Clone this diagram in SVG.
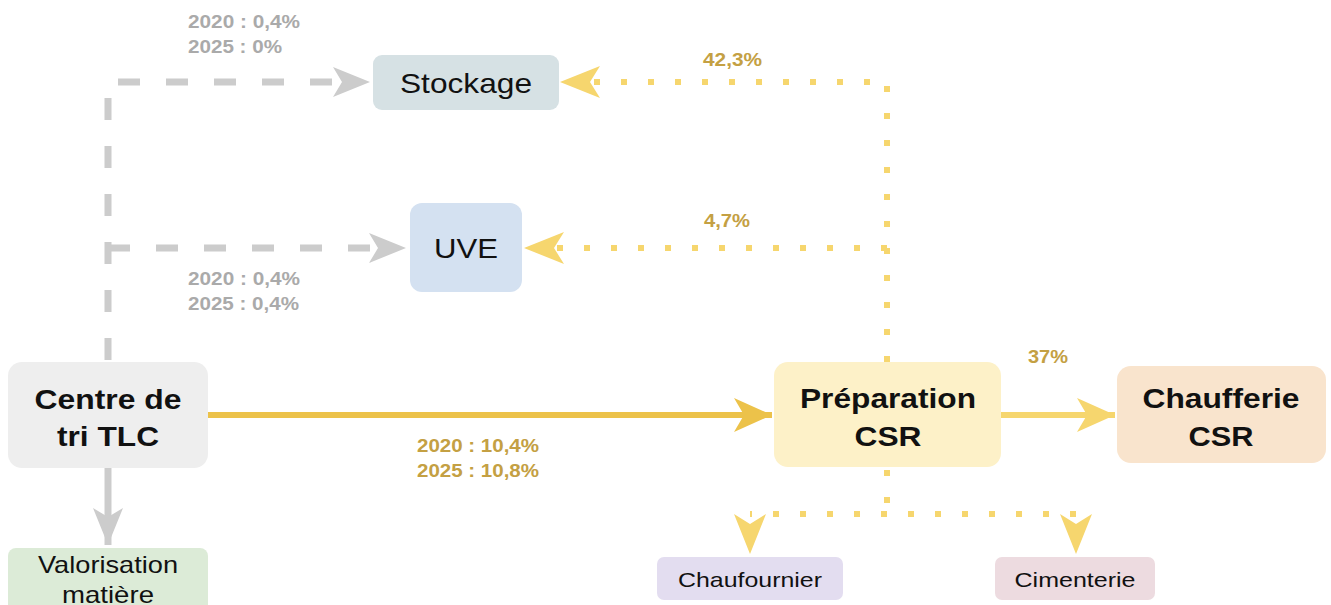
<svg xmlns="http://www.w3.org/2000/svg" width="1331" height="605" viewBox="0 0 1331 605">
<defs>
<style>
.box{stroke:none}
.t{font-family:"Liberation Sans",Arial,sans-serif;fill:#111;text-anchor:middle}
.b{font-weight:bold}
.lbl{font-family:"Liberation Sans",Arial,sans-serif;font-weight:bold;font-size:18px}
.g{fill:#aaaaaa}
.y{fill:#c4a043}
.dash{fill:none;stroke:#cccccc;stroke-width:7;stroke-dasharray:22 26}
.dot{fill:none;stroke:#f6d66e;stroke-width:6;stroke-dasharray:6 21}
</style>
<marker id="ag" viewBox="0 -16 38 32" refX="37" refY="0" markerWidth="38" markerHeight="32" markerUnits="userSpaceOnUse" orient="auto">
<path d="M0,-15 L37,0 L0,15 L9,0 Z" fill="#cccccc"/>
</marker>
<marker id="ay" viewBox="0 -18 40 36" refX="38" refY="0" markerWidth="40" markerHeight="36" markerUnits="userSpaceOnUse" orient="auto">
<path d="M0,-17 L38,0 L0,17 L10,0 Z" fill="#ecc24a"/>
</marker>
<marker id="ayl" viewBox="0 -18 40 36" refX="38" refY="0" markerWidth="40" markerHeight="36" markerUnits="userSpaceOnUse" orient="auto">
<path d="M0,-17 L38,0 L0,17 L10,0 Z" fill="#f6d66e"/>
</marker>
<marker id="ad" viewBox="0 -18 42 36" refX="40" refY="0" markerWidth="42" markerHeight="36" markerUnits="userSpaceOnUse" orient="auto">
<path d="M0,-16 L40,0 L0,16 L10,0 Z" fill="#f6d66e"/>
</marker>
</defs>
<rect width="1331" height="605" fill="#ffffff"/>
<g id="connectors">
<path class="dash" d="M108,360 L108,82 L334,82"/>
<path d="M334,82 L370,82" stroke="none" fill="none" marker-end="url(#ag)"/>
<path class="dash" d="M108,248 L370,248"/>
<path d="M370,248 L406,248" stroke="none" fill="none" marker-end="url(#ag)"/>
<path d="M108,468 L108,545" stroke="#cccccc" stroke-width="7" fill="none" marker-end="url(#ag)"/>
<path d="M208,415 L772,415" stroke="#ecc24a" stroke-width="6" fill="none" marker-end="url(#ay)"/>
<path d="M1001,415 L1115,415" stroke="#f6d66e" stroke-width="6" fill="none" marker-end="url(#ayl)"/>
<path class="dot" d="M887,362 L887,82 L580,82"/>
<path d="M600,82 L560,82" stroke="none" fill="none" marker-end="url(#ad)"/>
<path class="dot" d="M887,248 L545,248"/>
<path d="M564,248 L524,248" stroke="none" fill="none" marker-end="url(#ad)"/>
<path class="dot" d="M887,470 L887,514"/>
<path class="dot" d="M1076,514 L750,514"/>
<path d="M750,514 L750,554" stroke="none" fill="none" marker-end="url(#ad)"/>
<path d="M1076,514 L1076,554" stroke="none" fill="none" marker-end="url(#ad)"/>
</g>
<g id="stockage">
<rect class="box" x="373" y="55" width="186" height="55" rx="9" fill="#d6e1e4"/>
<text class="t" x="466" y="93" font-size="28" textLength="132" lengthAdjust="spacingAndGlyphs">Stockage</text>
</g>
<g id="uve">
<rect class="box" x="410" y="203" width="112" height="89" rx="12" fill="#d4e1f1"/>
<text class="t" x="466" y="258" font-size="28" textLength="64" lengthAdjust="spacingAndGlyphs">UVE</text>
</g>
<g id="centre">
<rect class="box" x="8" y="362" width="200" height="106" rx="14" fill="#eeeeee"/>
<text class="t b" x="108" y="409" font-size="28" textLength="147" lengthAdjust="spacingAndGlyphs">Centre de</text>
<text class="t b" x="108" y="446" font-size="28" textLength="102" lengthAdjust="spacingAndGlyphs">tri TLC</text>
</g>
<g id="valorisation">
<rect class="box" x="8" y="548" width="200" height="70" rx="8" fill="#dcebd7"/>
<text class="t" x="108" y="573" font-size="24" textLength="140" lengthAdjust="spacingAndGlyphs">Valorisation</text>
<text class="t" x="108" y="603" font-size="24" textLength="92" lengthAdjust="spacingAndGlyphs">matière</text>
</g>
<g id="preparation">
<rect class="box" x="774" y="362" width="227" height="105" rx="14" fill="#fdf1c8"/>
<text class="t b" x="888" y="408" font-size="28" textLength="176" lengthAdjust="spacingAndGlyphs">Préparation</text>
<text class="t b" x="888" y="446" font-size="28" textLength="67" lengthAdjust="spacingAndGlyphs">CSR</text>
</g>
<g id="chaufferie">
<rect class="box" x="1117" y="366" width="209" height="97" rx="14" fill="#f9e4cd"/>
<text class="t b" x="1221" y="408" font-size="28" textLength="157" lengthAdjust="spacingAndGlyphs">Chaufferie</text>
<text class="t b" x="1221" y="446" font-size="28" textLength="65" lengthAdjust="spacingAndGlyphs">CSR</text>
</g>
<g id="chaufournier">
<rect class="box" x="657" y="557" width="186" height="43" rx="7" fill="#e3ddf0"/>
<text class="t" x="750" y="587" font-size="21" textLength="144" lengthAdjust="spacingAndGlyphs">Chaufournier</text>
</g>
<g id="cimenterie">
<rect class="box" x="995" y="557" width="160" height="43" rx="7" fill="#eddbe0"/>
<text class="t" x="1075" y="587" font-size="21" textLength="121" lengthAdjust="spacingAndGlyphs">Cimenterie</text>
</g>
<g id="labels">
<text class="lbl g" x="188" y="28" textLength="112" lengthAdjust="spacingAndGlyphs">2020 : 0,4%</text>
<text class="lbl g" x="188" y="53" textLength="94" lengthAdjust="spacingAndGlyphs">2025 : 0%</text>
<text class="lbl g" x="188" y="285" textLength="112" lengthAdjust="spacingAndGlyphs">2020 : 0,4%</text>
<text class="lbl g" x="188" y="310" textLength="111" lengthAdjust="spacingAndGlyphs">2025 : 0,4%</text>
<text class="lbl y" x="703" y="66" textLength="59" lengthAdjust="spacingAndGlyphs">42,3%</text>
<text class="lbl y" x="704" y="227" textLength="46" lengthAdjust="spacingAndGlyphs">4,7%</text>
<text class="lbl y" x="1028" y="363" textLength="40" lengthAdjust="spacingAndGlyphs">37%</text>
<text class="lbl y" x="417" y="452" textLength="122" lengthAdjust="spacingAndGlyphs">2020 : 10,4%</text>
<text class="lbl y" x="417" y="477" textLength="122" lengthAdjust="spacingAndGlyphs">2025 : 10,8%</text>
</g>
</svg>
